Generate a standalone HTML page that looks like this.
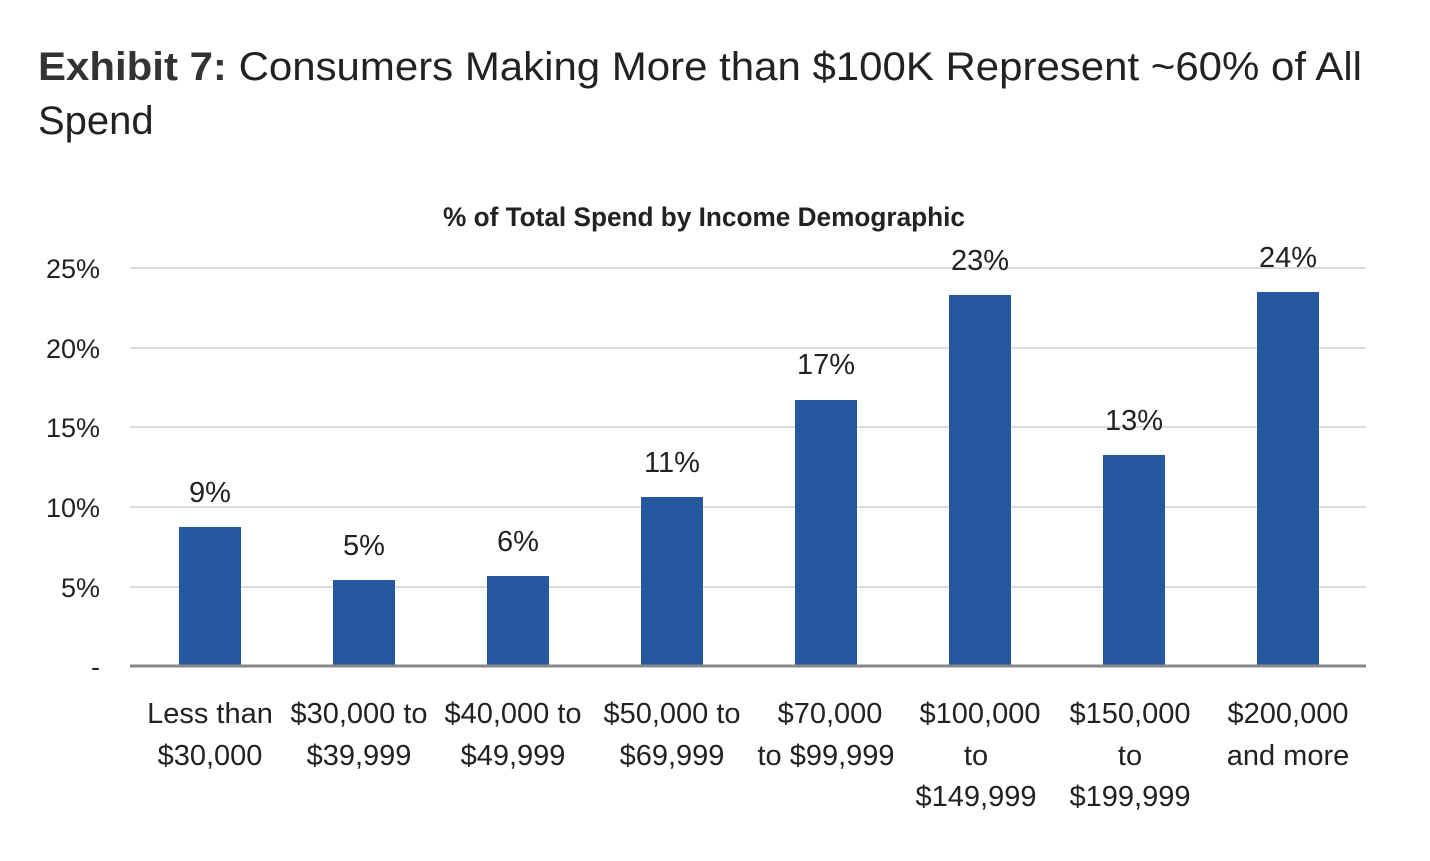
<!DOCTYPE html>
<html><head><meta charset="utf-8"><style>
html,body{margin:0;padding:0;background:#fff;}
svg{display:block;}
text{font-family:"Liberation Sans",sans-serif;fill:#222;}
</style></head><body>
<svg width="1430" height="861" viewBox="0 0 1430 861" xmlns="http://www.w3.org/2000/svg">
<text x="38" y="80" font-size="40" textLength="1324" lengthAdjust="spacingAndGlyphs"><tspan font-weight="bold" fill="#333">Exhibit 7:</tspan><tspan>  Consumers Making More than $100K Represent ~60% of All</tspan></text>
<text x="38" y="134" font-size="40">Spend</text>
<text x="704" y="226" font-size="27" font-weight="bold" text-anchor="middle" textLength="522" lengthAdjust="spacingAndGlyphs">% of Total Spend by Income Demographic</text>
<g stroke="#d0d0d0" stroke-width="1.5">
<line x1="130" x2="1366" y1="268" y2="268"/><line x1="130" x2="1366" y1="348" y2="348"/>
<line x1="130" x2="1366" y1="427" y2="427"/><line x1="130" x2="1366" y1="507" y2="507"/>
<line x1="130" x2="1366" y1="587" y2="587"/>
</g>
<g font-size="27" text-anchor="end">
<text x="100" y="278">25%</text><text x="100" y="358">20%</text><text x="100" y="437">15%</text>
<text x="100" y="517">10%</text><text x="100" y="597">5%</text><text x="100" y="676">-</text>
</g>
<g fill="#27579e">
<rect x="179" y="527" width="62" height="139"/>
<rect x="333" y="580" width="62" height="86"/>
<rect x="487" y="576" width="62" height="90"/>
<rect x="641" y="497" width="62" height="169"/>
<rect x="795" y="400" width="62" height="266"/>
<rect x="949" y="295" width="62" height="371"/>
<rect x="1103" y="455" width="62" height="211"/>
<rect x="1257" y="292" width="62" height="374"/>
</g>
<line x1="130" x2="1366" y1="666" y2="666" stroke="#888" stroke-width="3"/>
<g font-size="29" text-anchor="middle">
<text x="210" y="502">9%</text><text x="364" y="555">5%</text><text x="518" y="551">6%</text>
<text x="672" y="472">11%</text><text x="826" y="374">17%</text><text x="980" y="270">23%</text>
<text x="1134" y="430">13%</text><text x="1288" y="267">24%</text>
</g>
<g font-size="29" text-anchor="middle">
<text x="210" y="723">Less than</text><text x="210" y="765">$30,000</text>
<text x="359" y="723">$30,000 to</text><text x="359" y="765">$39,999</text>
<text x="513" y="723">$40,000 to</text><text x="513" y="765">$49,999</text>
<text x="672" y="723">$50,000 to</text><text x="672" y="765">$69,999</text>
<text x="830" y="723">$70,000</text><text x="826" y="765">to $99,999</text>
<text x="980" y="723">$100,000</text><text x="976" y="765">to</text><text x="976" y="806">$149,999</text>
<text x="1130" y="723">$150,000</text><text x="1130" y="765">to</text><text x="1130" y="806">$199,999</text>
<text x="1288" y="723">$200,000</text><text x="1288" y="765">and more</text>
</g>
</svg>
</body></html>
